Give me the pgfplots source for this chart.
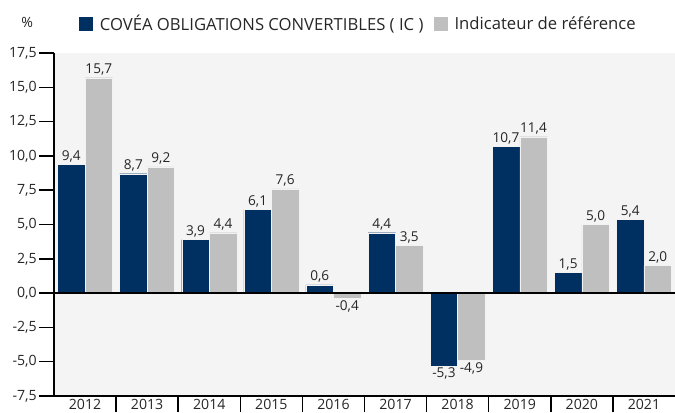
\documentclass[border=0pt]{standalone}
\usepackage{pgfplots}
\pgfplotsset{compat=1.18}
\usepackage{fontspec}
\setmainfont{Open Sans}
\definecolor{navy}{RGB}{0,48,97}
\definecolor{lgrey}{RGB}{191,191,191}
\definecolor{bg}{RGB}{244,244,244}
\begin{document}
\begin{tikzpicture}
\path[use as bounding box] (-40.5pt,-12pt) rectangle (465.75pt,297pt);
\begin{axis}[
  at={(0,0)}, anchor=south west,
  scale only axis, width=465.75pt, height=257.25pt,
  xmin=0, xmax=10, ymin=-7.5, ymax=17.5, enlargelimits=false,
  clip=false,
  axis background/.style={fill=bg},
  axis lines*=left,
  axis line style={-, line width=1.1pt, black},
  ybar=0pt, bar width=0.443,
  ytick={-7.5,-5,-2.5,0,2.5,5,7.5,10,12.5,15,17.5},
  xtick={0.5,1.5,...,9.5},
  xticklabels={2012,2013,2014,2015,2016,2017,2018,2019,2020,2021},
  minor xtick={1,2,...,9},
  tick align=outside,
  major tick length=11.25pt,
  minor tick length=12pt,
  every major x tick/.append style={draw=none},
  every minor x tick/.append style={black, line width=1.1pt},
  every major y tick/.append style={black, line width=1.1pt},
  xticklabel style={font=\fontsize{10.6}{11}\selectfont, yshift=11.25pt, text=black!85, inner sep=2pt},
  yticklabel style={font=\fontsize{10.6}{11}\selectfont, text=black!85, inner sep=1.5pt},
  /pgf/number format/fixed,
  /pgf/number format/fixed zerofill,
  /pgf/number format/precision=1,
  /pgf/number format/use comma,
  /pgf/number format/assume math mode=true,
  nodes near coords,
  every node near coord/.append style={font=\fontsize{10.2}{11}\selectfont, text=black!85, inner sep=1.5pt},
  legend columns=2,
  legend style={at={(axis description cs:0.491,1.085)}, anchor=center, draw=none, fill=none,
    font=\fontsize{12.5}{14}\selectfont, text=black!85,
    /tikz/every odd column/.append style={column sep=3.5pt},
    /tikz/every even column/.append style={column sep=6pt}},
]
\addplot[fill=navy, draw=white!90!gray, line width=0.25pt,
  legend image code/.code={\fill[navy] (0pt,-4.8pt) rectangle (9.6pt,4.8pt);}]
  coordinates {(0.5,9.4) (1.5,8.7) (2.5,3.9) (3.5,6.1) (4.5,0.6) (5.5,4.4) (6.5,-5.3) (7.5,10.7) (8.5,1.5) (9.5,5.4)};
\addplot[fill=lgrey, draw=white!90!gray, line width=0.25pt,
  legend image code/.code={\fill[lgrey] (0pt,-4.8pt) rectangle (9.6pt,4.8pt);}]
  coordinates {(0.5,15.7) (1.5,9.2) (2.5,4.4) (3.5,7.6) (4.5,-0.4) (5.5,3.5) (6.5,-4.9) (7.5,11.4) (8.5,5.0) (9.5,2.0)};
\legend{COVÉA OBLIGATIONS CONVERTIBLES ( IC ), Indicateur de référence}
\draw[black, line width=1.1pt] (axis cs:0,0) -- (axis cs:10,0);
\node[font=\fontsize{10.6}{11}\selectfont, text=black!85] at (axis description cs:-0.043,1.09) {\%};
\end{axis}
\end{tikzpicture}
\end{document}
